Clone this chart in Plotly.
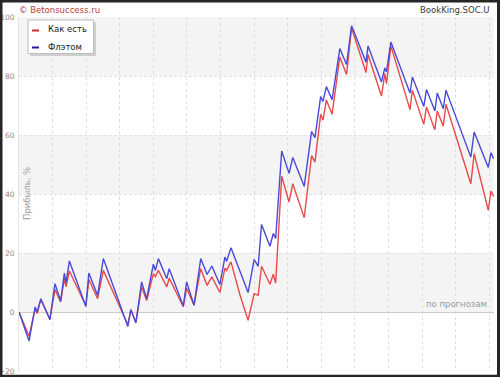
import plotly.graph_objects as go

# bet number (x) and cumulative profit, %
bets = [0, 3.0, 4.8, 5.4, 6.5, 9.2, 10.7, 12.4, 13.5, 14.0, 15.0, 19.9, 20.8, 23.4, 25.1,
        32.4, 33.3, 34.8, 36.5, 38.0, 40.0, 40.6, 41.5, 44.0, 44.7, 48.9, 49.9, 52.1, 54.1,
        56.0, 57.4, 59.8, 61.3, 61.8, 63.1, 65.8, 68.2, 70.0, 71.2, 72.2, 74.7, 75.7, 76.4,
        78.2, 80.4, 81.5, 84.9, 87.1, 88.1, 89.8, 90.5, 91.5, 93.2, 95.5, 97.5, 99.0, 103.3,
        103.9, 107.9, 108.9, 109.4, 110.7, 116.4, 117.1, 120.5, 121.3, 123.8, 124.5, 126.3,
        127.1, 134.5, 135.5, 139.7, 140.5, 141.3]

flat = [0, -9.8, 1.7, 0, 4.5, -2.6, 9.6, 3.7, 13.2, 9.8, 17.3, 1.9, 13.2, 5.6, 18.1,
        -4.9, 0.8, -3.7, 10.2, 4.5, 16.2, 14.1, 18.1, 11.3, 14.7, 2.0, 10.2, 2.3, 18.1,
        12.7, 15.6, 9.3, 18.6, 17.2, 21.8, 13.9, 6.6, 17.8, 15.5, 29.7, 22.3, 26.6, 24.9,
        54.6, 47.0, 52.4, 42.6, 61.2, 59.1, 73.0, 71.4, 76.4, 72.0, 89.3, 83.9, 97.0, 84.7,
        90.2, 78.0, 82.7, 81.4, 91.5, 74.2, 79.7, 69.7, 75.4, 68.2, 74.2, 68.9,
        75.2, 52.5, 61.0, 49.0, 54.0, 52.0]

as_is = [0, -8.2, 1.0, -0.5, 4.2, -2.4, 7.6, 3.4, 11.3, 8.5, 13.9, 2.1, 11.0, 4.5, 14.1,
         -4.3, 0.8, -3.5, 8.5, 3.9, 13.0, 12.0, 14.1, 8.5, 11.5, 1.8, 8.1, 2.3, 14.7,
         9.0, 11.9, 6.6, 14.9, 14.1, 17.0, 5.7, -2.8, 6.2, 5.7, 15.5, 9.4, 12.8, 9.8,
         46.0, 37.3, 43.5, 32.0, 53.0, 50.8, 67.0, 65.0, 71.9, 67.0, 86.4, 80.5, 96.3, 81.2,
         87.3, 73.2, 80.8, 77.4, 90.2, 68.6, 75.2, 63.6, 69.5, 61.8, 68.1, 63.0,
         70.4, 43.5, 53.7, 34.5, 41.0, 39.2]

series_names = ["Как есть", "Флэтом"]
y_ticks = [-20, 0, 20, 40, 60, 80, 100]
bands = [(0, 20), (40, 60), (80, 100)]

W, H = 500, 377
ML, MR, MT, MB = 19, 6, 17, 6
PW, PH = W - ML - MR, H - MT - MB
FONT = "DejaVu Sans, Verdana, sans-serif"


def px(x):
    return (x - ML) / PW


def py(y):
    return 1 - (y - MT) / PH


fig = go.Figure()
fig.add_trace(go.Scatter(x=bets, y=as_is, mode="lines", name=series_names[0],
                         line=dict(color="#e84a4a", width=1.4)))
fig.add_trace(go.Scatter(x=bets, y=flat, mode="lines", name=series_names[1],
                         line=dict(color="#4a4ad8", width=1.4)))

shapes = []
for y0, y1 in bands:
    shapes.append(dict(type="rect", xref="paper", yref="y", x0=0, x1=1, y0=y0, y1=y1,
                       fillcolor="#f4f4f4", line=dict(width=0), layer="below"))
# outer frame
shapes.append(dict(type="rect", xref="paper", yref="paper",
                   x0=px(1), x1=px(498.5), y0=py(1), y1=py(376.2),
                   line=dict(color="#262626", width=3), layer="above"))
# legend box with shadow
shapes.append(dict(type="rect", xref="paper", yref="paper",
                   x0=px(30), x1=px(96), y0=py(22), y1=py(56),
                   fillcolor="#cfcfcf", line=dict(width=0), layer="above"))
shapes.append(dict(type="rect", xref="paper", yref="paper",
                   x0=px(28), x1=px(93.5), y0=py(20), y1=py(53.5),
                   fillcolor="#ffffff", line=dict(color="#bdbdbd", width=1), layer="above"))
shapes.append(dict(type="line", xref="paper", yref="paper",
                   x0=px(32), x1=px(39), y0=py(30.5), y1=py(30.5),
                   line=dict(color="#d42a2a", width=2), layer="above"))
shapes.append(dict(type="line", xref="paper", yref="paper",
                   x0=px(32), x1=px(39), y0=py(47.5), y1=py(47.5),
                   line=dict(color="#1c1c9c", width=2), layer="above"))

annotations = [
    dict(text="© Betonsuccess.ru", xref="paper", yref="paper", x=px(17), y=py(10),
         xanchor="left", yanchor="middle", showarrow=False,
         font=dict(family=FONT, size=8.5, color="#b8423c")),
    dict(text="BookKing.SOC.U", xref="paper", yref="paper", x=px(492), y=py(10),
         xanchor="right", yanchor="middle", showarrow=False,
         font=dict(family=FONT, size=8.5, color="#3a3a3a")),
    dict(text=series_names[0], xref="paper", yref="paper", x=px(46), y=py(29.5),
         xanchor="left", yanchor="middle", showarrow=False,
         font=dict(family=FONT, size=8.5, color="#222222")),
    dict(text=series_names[1], xref="paper", yref="paper", x=px(46), y=py(46.5),
         xanchor="left", yanchor="middle", showarrow=False,
         font=dict(family=FONT, size=8.5, color="#222222")),
    dict(text="Прибыль, %", xref="paper", yref="paper", x=px(27), y=py(194),
         xanchor="center", yanchor="middle", textangle=-90, showarrow=False,
         font=dict(family=FONT, size=8.5, color="#9a9a9a")),
    dict(text="по прогнозам", xref="paper", yref="y", x=px(488.5), y=0,
         xanchor="right", yanchor="bottom", yshift=1, showarrow=False,
         font=dict(family=FONT, size=8.5, color="#9a9a9a")),
]

fig.update_layout(
    width=W, height=H,
    margin=dict(l=ML, r=MR, t=MT, b=MB, pad=0),
    paper_bgcolor="#ffffff", plot_bgcolor="#ffffff",
    showlegend=False,
    shapes=shapes, annotations=annotations,
    font=dict(family=FONT, size=8, color="#8a8a8a"),
)
fig.update_xaxes(range=[0, 141.4], dtick=10, tick0=0, showticklabels=False, ticks="",
                 showgrid=True, gridcolor="#dedede", griddash="3px,3px", gridwidth=1,
                 zeroline=False, showline=False, automargin=False, fixedrange=True)
fig.update_yaxes(range=[-20, 100], tickvals=y_ticks, ticks="", showgrid=True,
                 gridcolor="#e2e2e2", griddash="3px,2px", gridwidth=1,
                 zeroline=True, zerolinecolor="#cccccc", zerolinewidth=1,
                 showline=True, linecolor="#e4e4e4", ticklabelstandoff=2,
                 tickfont=dict(family=FONT, size=7.5, color="#8a8a8a"),
                 automargin=False, fixedrange=True)

fig.write_html("out.html", config={"displayModeBar": False},
               post_script="document.body.style.margin='0px';"
                           "document.body.style.overflow='hidden';")
